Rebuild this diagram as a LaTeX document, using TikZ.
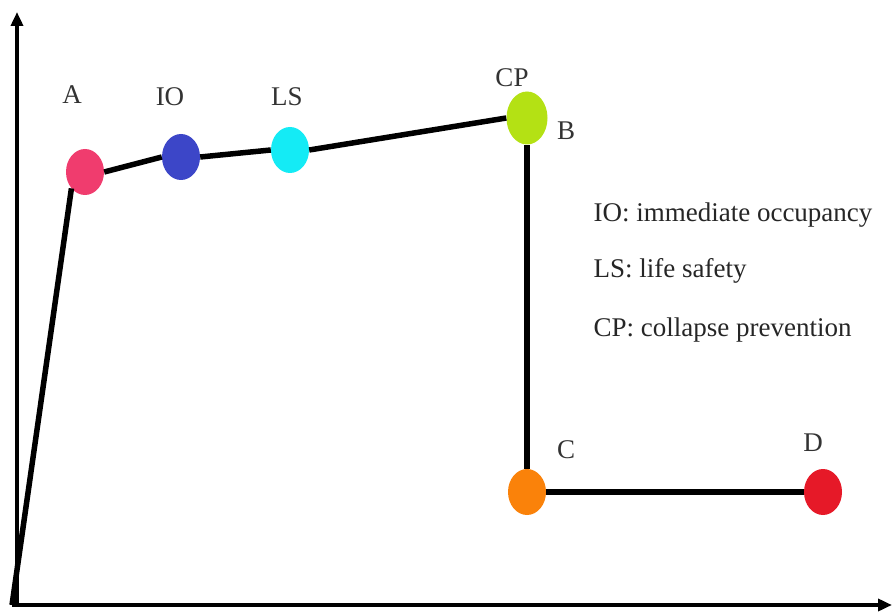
\documentclass[tikz,border=0pt]{standalone}
\usepackage{fontspec}
\setmainfont{Liberation Serif}
\usetikzlibrary{arrows.meta,shapes.geometric}
\begin{document}
\begin{tikzpicture}[x=1pt,y=-1pt,
  dot/.style={ellipse,draw=none,minimum width=38pt,minimum height=46pt,inner sep=0pt},
  curve/.style={line width=5.5pt,black},
  axis/.style={line width=3.5pt,black,-{Triangle[length=14pt,width=12pt]}},
  lbl/.style={font=\fontsize{27}{30}\selectfont,text=black!80},
  leg/.style={font=\fontsize{27}{32}\selectfont,text=black!85,anchor=west}]
\useasboundingbox (0,0) rectangle (892,612);
\coordinate (O) at (12,605);
\coordinate (Ybot) at (17,605);
\coordinate (Ytop) at (17,12);
\coordinate (Xend) at (892,605);
\draw[axis] (Ybot) -- (Ytop);
\draw[axis] (O) -- (Xend);
\node[dot,fill={rgb,255:red,240;green,60;blue,110}] (A) at (85,172) {};
\node[dot,fill={rgb,255:red,60;green,70;blue,200}] (IO) at (181,157) {};
\node[dot,fill={rgb,255:red,20;green,235;blue,245}] (LS) at (290,150) {};
\node[dot,fill={rgb,255:red,180;green,225;blue,20},minimum width=41pt,minimum height=53pt] (B) at (527,118) {};
\node[dot,fill={rgb,255:red,250;green,130;blue,10}] (C) at (527,492) {};
\node[dot,fill={rgb,255:red,230;green,25;blue,40}] (D) at (823,492) {};
\draw[curve] (O) -- (A.south west);
\draw[curve] (A.east) -- (IO.west);
\draw[curve] (IO.east) -- (LS.west);
\draw[curve] (LS.east) -- (B.west);
\draw[curve] (B.south) -- (C.north);
\draw[curve] (C.east) -- (D.west);
\node[lbl] (tA) at (72,95) {A};
\node[lbl] (tIO) at (170,97) {IO};
\node[lbl] (tLS) at (287,97) {LS};
\node[lbl] (tCP) at (512,78) {CP};
\node[lbl] (tB) at (566,131) {B};
\node[lbl] (tC) at (566,450) {C};
\node[lbl] (tD) at (813,443) {D};
\node[leg] (l1) at (590,215) {IO: immediate occupancy};
\node[leg] (l2) at (590,271) {LS: life safety};
\node[leg] (l3) at (590,330) {CP: collapse prevention};
\end{tikzpicture}
\end{document}
